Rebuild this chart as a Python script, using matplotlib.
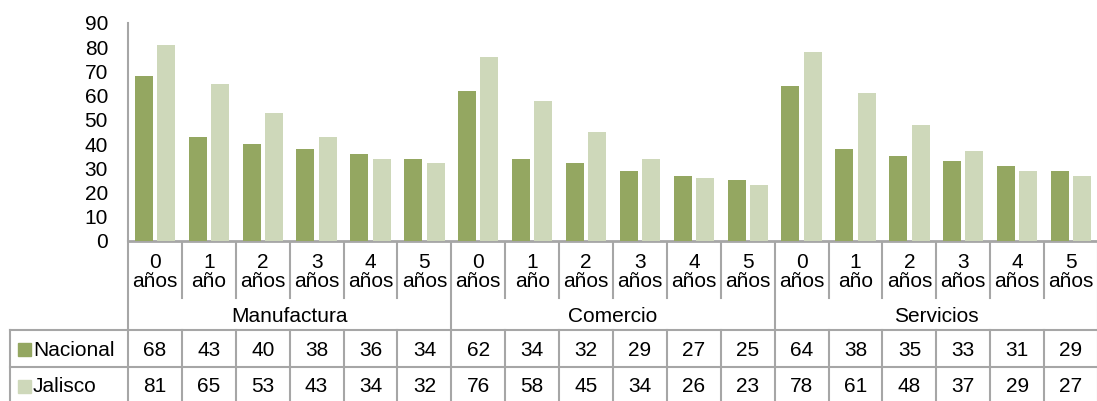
import numpy as np
import matplotlib.pyplot as plt
from matplotlib.transforms import blended_transform_factory

plt.rcParams['font.family'] = ['Liberation Sans', 'DejaVu Sans']

# data
sectors = ['Manufactura', 'Comercio', 'Servicios']
ages = ['0\naños', '1\naño', '2\naños', '3\naños', '4\naños', '5\naños']
nacional = [68, 43, 40, 38, 36, 34, 62, 34, 32, 29, 27, 25, 64, 38, 35, 33, 31, 29]
jalisco = [81, 65, 53, 43, 34, 32, 76, 58, 45, 34, 26, 23, 78, 61, 48, 37, 29, 27]
series_names = ['Nacional', 'Jalisco']

c_nac = '#94A761'
c_jal = '#CED8BA'
grid_c = '#A6A6A6'

W, H = 1097, 401
fig = plt.figure(figsize=(W / 100, H / 100), dpi=100)

x0, y0, ytop = 128, 241, 23
cw = (W - x0 + 1) / 18
ax = fig.add_axes([x0 / W, (H - y0) / H, 18 * cw / W, (y0 - ytop) / H])
n = len(nacional)
x = np.arange(n) + 0.5
ax.bar(x - 0.207, nacional, width=0.335, color=c_nac, zorder=3)
ax.bar(x + 0.207, jalisco, width=0.335, color=c_jal, zorder=3)
ax.set_xlim(0, n)
ax.set_ylim(0, 90)
ax.set_yticks(range(0, 91, 10))
ax.set_xticks([])
ax.tick_params(axis='y', length=0, pad=14.4, labelsize=15)
for s in ['top', 'right']:
    ax.spines[s].set_visible(False)
ax.spines['left'].set_color(grid_c)
ax.spines['left'].set_linewidth(1.5)
ax.spines['bottom'].set_color(grid_c)
ax.spines['bottom'].set_linewidth(2)

# overlay in pixel coordinates for the data table
ov = fig.add_axes([0, 0, 1, 1], zorder=-1)
ov.set_xlim(0, W)
ov.set_ylim(H, 0)
ov.axis('off')
tr = blended_transform_factory(ax.transData, ov.transData)

lw = 1.5
y_tick_bottom, y_grp, y_r1, y_r2 = 298, 330, 367, H + 5

# vertical lines
for k in range(n + 1):
    if k % 6 == 0:
        ov.plot([k, k], [y0, y_r2], color=grid_c, lw=lw, transform=tr, clip_on=False)
    else:
        ov.plot([k, k], [y0, y_tick_bottom], color=grid_c, lw=lw, transform=tr, clip_on=False)
        ov.plot([k, k], [y_grp, y_r2], color=grid_c, lw=lw, transform=tr, clip_on=False)
# horizontal lines
for yy in [y_grp, y_r1]:
    ov.plot([10, W], [yy, yy], color=grid_c, lw=lw, clip_on=False)
ov.plot([10, 10], [y_grp, y_r2], color=grid_c, lw=lw, clip_on=False)

# category labels
for i in range(n):
    ov.text(x[i], 272, ages[i % 6], transform=tr, ha='center', va='center',
            fontsize=15, linespacing=1.05)
for g, name in enumerate(sectors):
    ov.text(g * 6 + 3, 316, name, transform=tr, ha='center', va='center', fontsize=15)

# data rows
for vals, yy, col, name in [(nacional, 350, c_nac, series_names[0]),
                            (jalisco, 387, c_jal, series_names[1])]:
    ov.add_patch(plt.Rectangle((18, yy - 7), 13, 13, color=col))
    ov.text(33, yy, name, ha='left', va='center', fontsize=15)
    for i, v in enumerate(vals):
        ov.text(x[i], yy, str(v), transform=tr, ha='center', va='center', fontsize=15)

fig.savefig('out.png', dpi=100)
